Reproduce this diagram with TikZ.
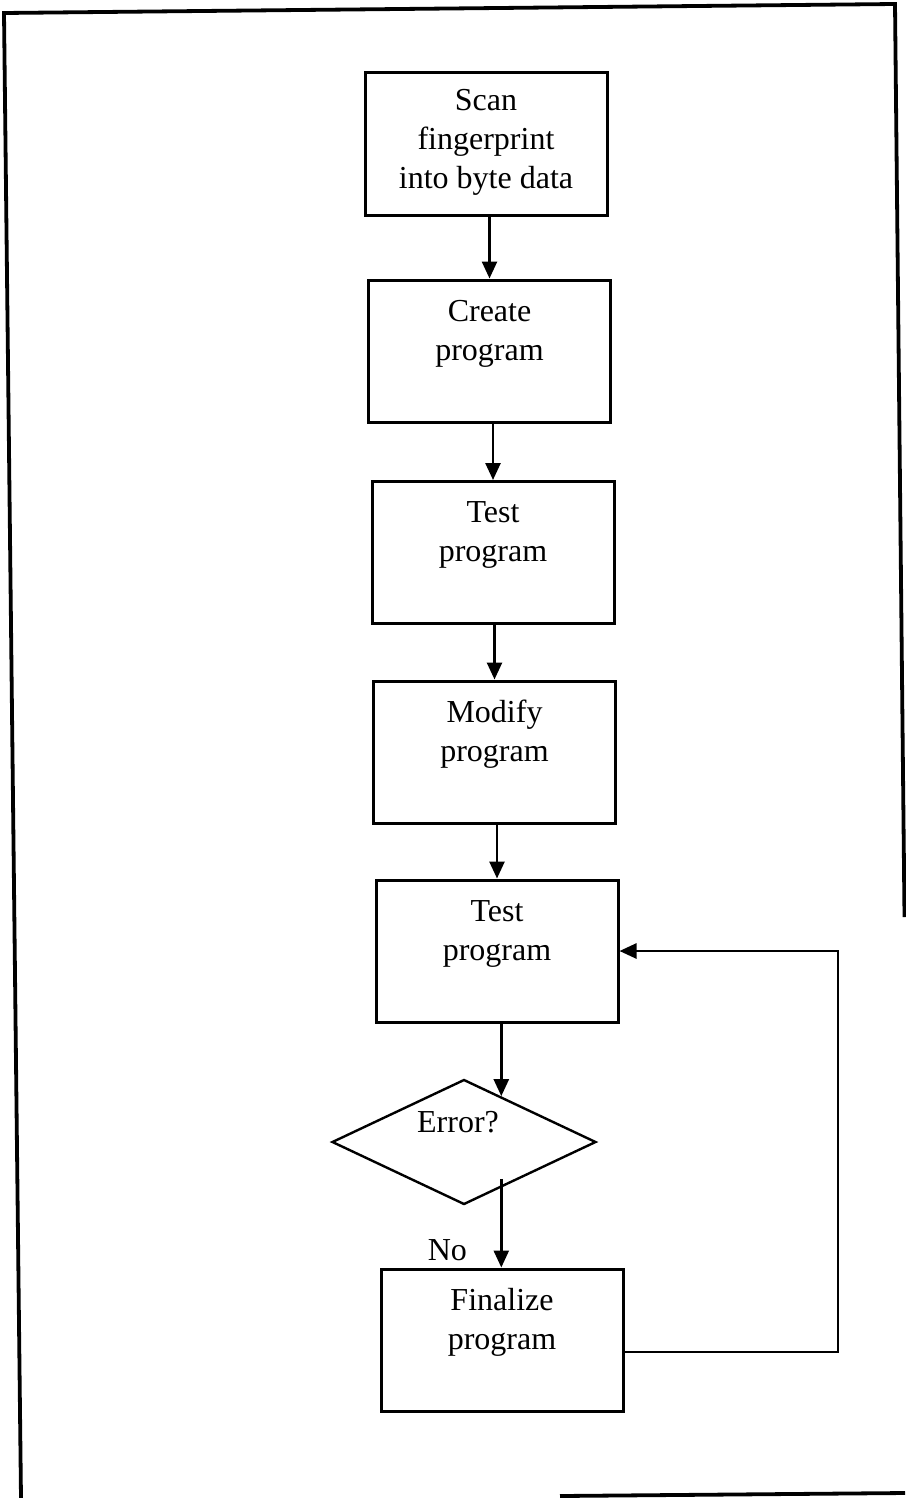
\documentclass[tikz,border=0pt]{standalone}
\usepackage{fontspec}
\setmainfont{Liberation Serif}
\usetikzlibrary{arrows.meta,shapes.geometric,calc}
\newcommand\boxtext[1]{\parbox[b]{240pt}{\centering\fontsize{32}{39}\selectfont #1}}
\begin{document}
\begin{tikzpicture}[x=1pt,y=-1pt,
  stepbox/.style={draw, line width=3pt, inner sep=0pt, minimum width=242pt, text height=80pt, text depth=62pt},
  arr/.style={line width=2.6pt, -{Triangle[length=17pt,width=15pt]}},
  frameline/.style={line width=3.8pt},
  lbl/.style={inner sep=0pt, font=\fontsize{32}{39}\selectfont}]
\useasboundingbox (0,0) rectangle (905,1498);
% frame
\draw[frameline] (21,1498) -- (4,13) -- (895,4) -- (904.5,917);
\draw[frameline] (560,1496) -- (905,1493);
% steps
\node[stepbox, text height=116pt, text depth=26pt] (s1) at (486,144) {\boxtext{Scan\\fingerprint\\into byte data}};
\node[stepbox] (s2) at (489.5,351) {\boxtext{Create\\program}};
\node[stepbox] (s3) at (493,552.5) {\boxtext{Test\\program}};
\node[stepbox] (s4) at (494.5,752) {\boxtext{Modify\\program}};
\node[stepbox] (s5) at (497,951) {\boxtext{Test\\program}};
\node[draw, diamond, line width=2.4pt, inner sep=0pt, aspect=2.1, minimum width=264pt, minimum height=125pt,
      font=\fontsize{32}{39}\selectfont, text height=22pt, text depth=42pt] (d) at (464,1142) {Error?\hspace*{12pt}};
\node[stepbox] (s6) at (502,1340) {\boxtext{Finalize\\program}};
% connectors
\draw[arr] (s1.south -| s2.north) -- (s2.north);
\draw[arr] (s2.south -| s3.north) -- (s3.north);
\draw[arr] (s3.south -| s4.north) -- (s4.north);
\draw[arr] (s4.south -| s5.north) -- (s5.north);
\coordinate (din) at ($(d.north)!0.28!(d.east)$);
\draw[arr] (s5.south -| din) -- (din);
\coordinate (dout) at ($(d.east)!0.72!(d.south)$);
\draw[arr, shorten <=-9pt] (dout) -- (dout |- s6.north) node[lbl, pos=0.78, left=33pt] (no) {No};
\coordinate (lr) at (838,1352);
\draw[arr] (s6.east |- lr) -- (lr) |- (s5.east);
\end{tikzpicture}
\end{document}
